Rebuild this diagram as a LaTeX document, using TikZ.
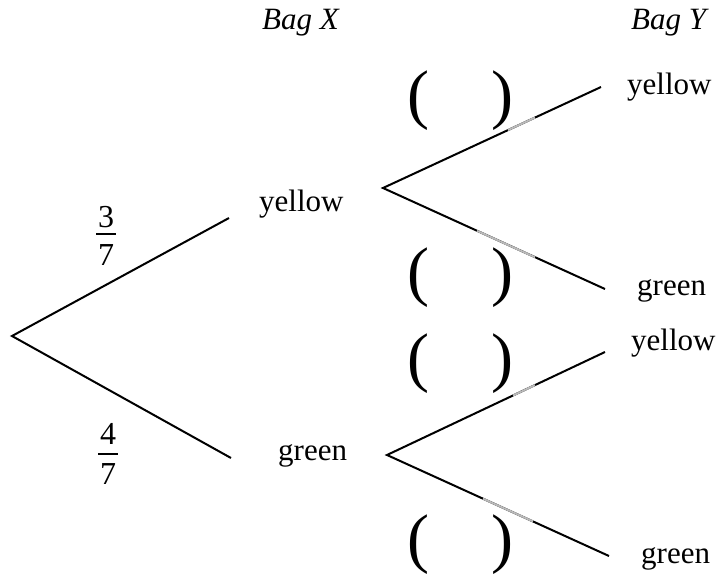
\documentclass[tikz,border=0pt]{standalone}
\usepackage{fontspec}
\setmainfont{Liberation Serif}
\newcommand{\stackfrac}[4]{\vbox{\offinterlineskip\hbox to 20pt{\hfil #1\hfil}\kern#3\hrule height 1.8pt\kern#4\hbox to 20pt{\hfil #2\hfil}}}
\begin{document}
\begin{tikzpicture}[x=1pt,y=-1pt,
  txt/.style={inner sep=0pt,anchor=base west,font=\fontsize{31}{36}\selectfont},
  frac/.style={inner sep=0pt,anchor=north,font=\fontsize{32}{36}\selectfont},
  par/.style={inner sep=0pt,font=\fontsize{66}{72}\selectfont},
  branch/.style={line width=2pt,black},
  smudge/.style={line width=2pt,gray!55}]
\useasboundingbox (0,0) rectangle (720,575);
% headings
\node[txt] (bagx) at (262,30) {\itshape Bag X};
\node[txt] (bagy) at (631,30) {\itshape Bag Y};
% outcome labels
\node[txt] (xy) at (259,211) {yellow};
\node[txt] (xg) at (278,460) {green};
\node[txt] (yy1) at (627,95) {yellow};
\node[txt] (yg1) at (637,295) {green};
\node[txt] (yy2) at (631,350) {yellow};
\node[txt] (yg2) at (641,563) {green};
% fractions
\node[frac] (f1) at (106,206) {\stackfrac{3}{7}{5pt}{10pt}};
\node[frac] (f2) at (108,423) {\stackfrac{4}{7}{9pt}{8pt}};
% parentheses
\foreach \n/\yy in {a/101,b/278,c/364,d/545}{
  \node[par] (l\n) at (418,\yy) {(};
  \node[par] (r\n) at (502,\yy) {)};
}
% branch points
\coordinate (root) at (12,336);
\coordinate (ey) at (229,218);
\coordinate (eg) at (231,458);
\coordinate (v1) at (383,188);
\coordinate (e1a) at (601,87);
\coordinate (e1b) at (605,289);
\coordinate (v2) at (387,455);
\coordinate (e2a) at (605,352);
\coordinate (e2b) at (609,556);
\draw[branch] (ey) -- (root) -- (eg);
\draw[branch] (e1a) -- (v1) -- (e1b);
\draw[branch] (e2a) -- (v2) -- (e2b);
% grey smudges on the branches
\coordinate (s1a) at (508,130.1);
\coordinate (s1b) at (535,117.6);
\coordinate (s2a) at (477,230.8);
\coordinate (s2b) at (535,257.2);
\coordinate (s3a) at (513,395.5);
\coordinate (s3b) at (535,385.1);
\coordinate (s4a) at (483,498.7);
\coordinate (s4b) at (533,521.4);
\draw[smudge] (s1a) -- (s1b);
\draw[smudge] (s2a) -- (s2b);
\draw[smudge] (s3a) -- (s3b);
\draw[smudge] (s4a) -- (s4b);
\end{tikzpicture}
\end{document}
